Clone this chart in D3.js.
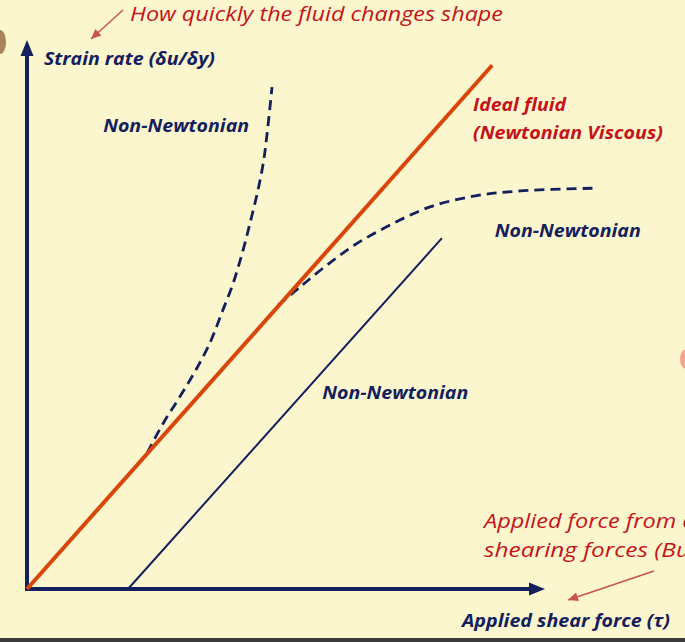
<!DOCTYPE html>
<html><head><meta charset="utf-8">
<script src="https://cdn.jsdelivr.net/npm/d3@7"></script>
<style>html,body{margin:0;padding:0;background:#FBF6CD;}svg{display:block;}</style>
</head><body>
<svg id="c" width="685" height="642"></svg>
<script>
// Data (arbitrary units: shear force tau on x, strain rate on y)
const newtonian = [[0,0],[89.8,95.4]];
const bingham = [[19.5,0],[80.1,63.9]];
const shearThinning = [[48.5,51.7],[52.7,55.0],[57.5,58.7],[63.3,62.7],[70.1,66.3],[77.8,69.6],[86.5,71.6],[95.2,72.5],[109.3,73.0]];
const shearThickening = [[23.2,24.8],[26.3,30.2],[29.5,35.0],[32.6,39.9],[35.3,44.8],[37.6,50.3],[39.8,55.7],[41.7,61.7],[43.2,67.2],[44.6,72.7],[45.7,78.1],[46.5,84.2],[47.3,91.4]];
const labels = [
  {t:"Non-Newtonian", x:14.7, y:83.2},
  {t:"Non-Newtonian", x:90.3, y:64.1},
  {t:"Non-Newtonian", x:57.0, y:34.6}
];

const svg = d3.select("#c");
const x = d3.scaleLinear().domain([0,100]).range([27,545]);
const y = d3.scaleLinear().domain([0,100]).range([589,40]);
const navy = "#14205E", red = "#C3141B", orange = "#D8460B";

// decorative slide bits
svg.append("rect").attr("x",0).attr("y",638).attr("width",685).attr("height",4).attr("fill","#3a3a3a");
svg.append("ellipse").attr("cx",0).attr("cy",42).attr("rx",6).attr("ry",12).attr("fill","#A8845A");
svg.append("ellipse").attr("cx",686).attr("cy",359).attr("rx",6).attr("ry",10).attr("fill","#F4A58E");

const line = d3.line().x(d=>x(d[0])).y(d=>y(d[1]));
const smooth = d3.line().x(d=>x(d[0])).y(d=>y(d[1])).curve(d3.curveCatmullRom.alpha(0.5));

// axes
svg.append("line").attr("x1",x(0)).attr("y1",y(0)).attr("x2",x(0)).attr("y2",y(100)+12).attr("stroke",navy).attr("stroke-width",4);
svg.append("line").attr("x1",x(0)-2).attr("y1",y(0)).attr("x2",x(100)-12).attr("y2",y(0)).attr("stroke",navy).attr("stroke-width",4);
svg.append("path").attr("d",`M${x(0)},${y(100)} L${x(0)-6.5},${y(100)+16} L${x(0)+6.5},${y(100)+16}Z`).attr("fill",navy);
svg.append("path").attr("d",`M${x(100)},${y(0)} L${x(100)-16},${y(0)-6.5} L${x(100)-16},${y(0)+6.5}Z`).attr("fill",navy);

// series
svg.append("path").attr("d",line(bingham)).attr("fill","none").attr("stroke",navy).attr("stroke-width",2);
svg.append("path").attr("d",smooth(shearThinning)).attr("fill","none").attr("stroke",navy).attr("stroke-width",2.8).attr("stroke-dasharray","10,6");
svg.append("path").attr("d",smooth(shearThickening)).attr("fill","none").attr("stroke",navy).attr("stroke-width",2.8).attr("stroke-dasharray","10,6");
svg.append("path").attr("d",line(newtonian)).attr("fill","none").attr("stroke",orange).attr("stroke-width",4);

// text
const F = "'Open Sans', sans-serif";
function txt(s,px,py,size,col,bold,len){
  const t = svg.append("text").attr("x",px).attr("y",py).attr("font-family",F).attr("font-size",size)
    .attr("font-style","italic").attr("font-weight",bold?"bold":"normal").attr("fill",col).text(s);
  if(len) t.attr("textLength",len).attr("lengthAdjust","spacingAndGlyphs");
  return t;
}
labels.forEach(l=>txt(l.t,x(l.x),y(l.y),17.5,navy,true,146));
txt("Strain rate (\u03B4u/\u03B4y)",44,65,17.5,navy,true,171);
txt("Applied shear force (\u03C4)",462,627,17.5,navy,true,208);
txt("Ideal fluid",473,111,17.5,red,true,93);
txt("(Newtonian Viscous)",473,139,17.5,red,true,190);
txt("How quickly the fluid changes shape",130,21,20,red,false,373);
txt("Applied force from e",484,528,20.5,red,false,210);
txt("shearing forces (Bu",484,557,20.5,red,false,206);

// annotation arrows
const pink = "#C9524E";
function arrow(x1,y1,x2,y2){
  svg.append("line").attr("x1",x1).attr("y1",y1).attr("x2",x2).attr("y2",y2).attr("stroke",pink).attr("stroke-width",1.5);
  const a = Math.atan2(y2-y1,x2-x1), L=10, W=4.5;
  const bx = x2-L*Math.cos(a), by = y2-L*Math.sin(a);
  svg.append("path").attr("d",`M${x2},${y2} L${bx+W*Math.sin(a)},${by-W*Math.cos(a)} L${bx-W*Math.sin(a)},${by+W*Math.cos(a)}Z`).attr("fill",pink);
}
arrow(123,10,91,39);
arrow(654,571,568,600);
</script>
</body></html>
